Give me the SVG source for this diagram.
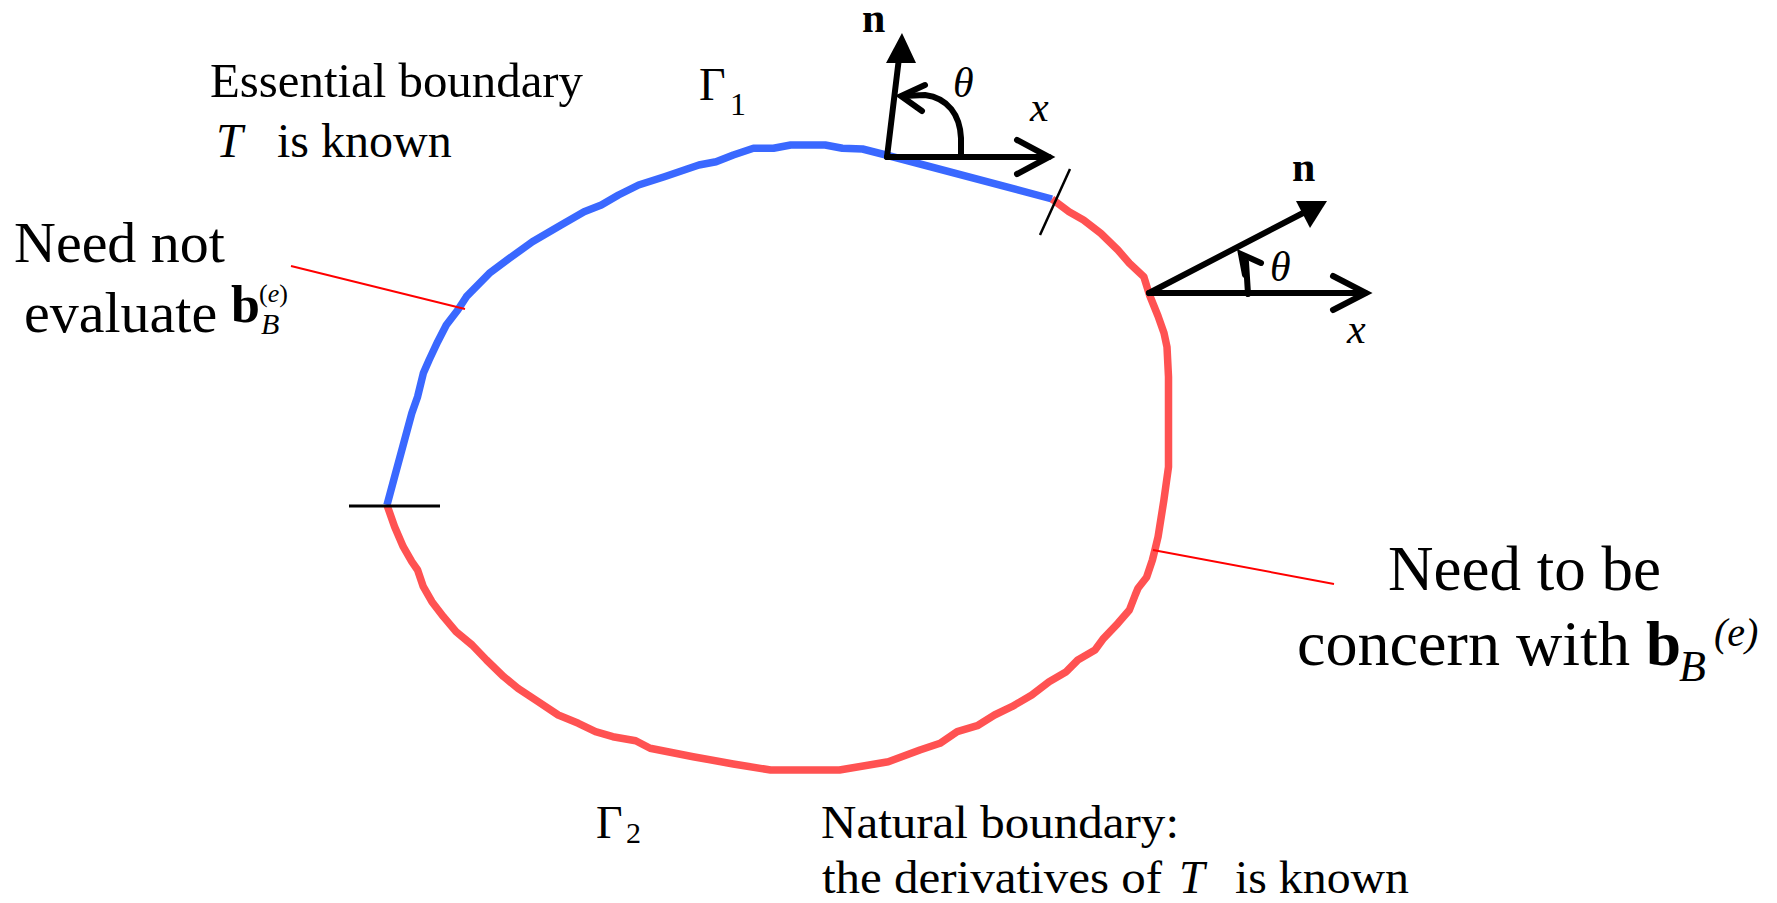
<svg xmlns="http://www.w3.org/2000/svg" width="1777" height="903" viewBox="0 0 1777 903">
<style>
text{font-family:"Liberation Serif","Times New Roman",serif;fill:#000}
.it{font-style:italic}
.bd{font-weight:bold}
.blue{fill:none;stroke:#3A68FF;stroke-width:7.5;stroke-linejoin:round}
.red{fill:none;stroke:#FF5252;stroke-width:7.5;stroke-linejoin:round}
.ax{fill:none;stroke:#000;stroke-width:6;stroke-linecap:round}
.lead{fill:none;stroke:#FF0000;stroke-width:2}
.tick{fill:none;stroke:#000}
</style>
<rect width="1777" height="903" fill="#fff"/>
<g id="boundary">
<path class="blue" d="M387,505 L394.6,476.7 L403.2,445 L411.8,413.3 L417.6,396.7 L423.3,373.3 L429.1,360 L437.7,341.7 L446.3,325 L457.8,310 L466.4,296.7 L489.3,273.3 L509.4,258.3 L532.4,241.7 L561.1,225 L584.1,211.7 L601.3,205 L618.5,195 L638.6,185 L664.4,176.7 L698.9,165 L716.1,161.7 L733.3,155 L753.4,148.3 L773.5,148.3 L790.7,145 L825.2,145 L842.4,148.3 L862.5,149 L886,155 L1052,199"/>
<path class="red" d="M1052,199 L1069,211.7 L1083.5,220 L1100.7,233.3 L1117.9,250 L1129.4,263.3 L1143.8,276.7 L1149.5,295 L1158,316 L1164,333 L1167,347 L1168.5,377 L1168.5,467 L1163.9,500 L1158.1,536.7 L1155.3,548.3 L1152.4,560 L1146.6,577.3 L1138,588.3 L1135.2,595 L1129.4,610 L1117.9,623.3 L1103.6,638.3 L1095,650 L1077.8,660 L1066.3,671.7 L1049.1,681.7 L1031.8,695 L1011.8,706.7 L994.5,715 L977.3,725.7 L957.2,731.7 L940,743.3 L919.9,750 L888.3,761.7 L839.5,770 L770.6,770 L733.3,764 L693.1,756.7 L650.1,748.3 L635.7,740.7 L612.8,736.7 L595.5,731.7 L578.3,723.3 L558.2,715 L538.1,701.7 L518,688.3 L503.7,676.7 L486.5,660 L472.1,645 L456,631.7 L443.4,616.7 L431.9,601.7 L423.3,586.7 L417.6,570 L411.8,561.7 L403.2,546.7 L394.6,526.7 L387.2,505.7"/>
<path class="tick" stroke-width="3" d="M349,506 L440,506"/>
<path class="tick" stroke-width="2.5" d="M1070,169 L1040,235"/>
</g>
<g id="connectors">
<path class="lead" d="M291,266 L465,309"/>
<path class="lead" d="M1153,550 L1334,584"/>
</g>
<g id="axes-top">
<path class="ax" d="M887,157 L1049,157"/>
<path class="ax" d="M1017,140 L1049,157 L1017,174" stroke-linejoin="miter"/>
<path class="ax" d="M887,157 L899,58"/>
<polygon points="902,33 886,63 916,63" fill="#000"/>
<path class="ax" stroke-width="5.5" d="M961,157 L961,138 C960,115 948,98 925,95 L903,96"/>
<path class="ax" stroke-width="5.5" d="M925,85 L901,96 L922,111"/>
<text class="it" x="953" y="97" font-size="42">θ</text>
<text class="it" x="1030" y="121" font-size="42">x</text>
<text class="bd" x="862" y="32" font-size="42">n</text>
</g>
<g id="axes-right">
<path class="ax" d="M1149,293 L1365,293"/>
<path class="ax" d="M1333,276 L1366,293 L1333,310" stroke-linejoin="miter"/>
<path class="ax" d="M1149,293 L1305,212"/>
<polygon points="1327,201 1296,201 1310,228" fill="#000"/>
<path class="ax" d="M1248,294 L1246,262"/>
<path class="ax" stroke-width="5" d="M1261,263 L1241,254 L1245,275"/>
<text class="it" x="1270" y="281" font-size="42">θ</text>
<text class="it" x="1347" y="343" font-size="42">x</text>
<text class="bd" x="1292" y="181" font-size="42">n</text>
</g>
<g id="label-essential">
<text x="210" y="97" font-size="48" textLength="373" lengthAdjust="spacingAndGlyphs">Essential boundary</text>
<text class="it" x="216" y="157" font-size="48">T</text>
<text x="277" y="157" font-size="48">is known</text>
</g>
<g id="label-gamma1">
<text x="699" y="100" font-size="46">Γ</text>
<text x="730" y="115" font-size="32">1</text>
</g>
<g id="label-neednot">
<text x="14" y="262" font-size="58">Need not</text>
<text x="24" y="332" font-size="58">evaluate</text>
<text class="bd" x="231" y="322" font-size="52">b</text>
<text x="259" y="302" font-size="26">(<tspan class="it">e</tspan>)</text>
<text class="it" x="261" y="334" font-size="30">B</text>
</g>
<g id="label-gamma2">
<text x="596" y="838" font-size="46">Γ</text>
<text x="626" y="843" font-size="30">2</text>
</g>
<g id="label-natural">
<text x="821" y="838" font-size="46" textLength="358" lengthAdjust="spacingAndGlyphs">Natural boundary:</text>
<text x="822" y="893" font-size="46" textLength="340" lengthAdjust="spacingAndGlyphs">the derivatives of</text>
<text class="it" x="1179" y="893" font-size="46">T</text>
<text x="1235" y="893" font-size="46" textLength="174" lengthAdjust="spacingAndGlyphs">is known</text>
</g>
<g id="label-needtobe">
<text x="1388" y="590" font-size="63">Need to be</text>
<text x="1297" y="665" font-size="63" textLength="333" lengthAdjust="spacingAndGlyphs">concern with</text>
<text class="bd" x="1646" y="665" font-size="63">b</text>
<text class="it" x="1679" y="681" font-size="44">B</text>
<text class="it" x="1714" y="646" font-size="40">(e)</text>
</g>
</svg>
